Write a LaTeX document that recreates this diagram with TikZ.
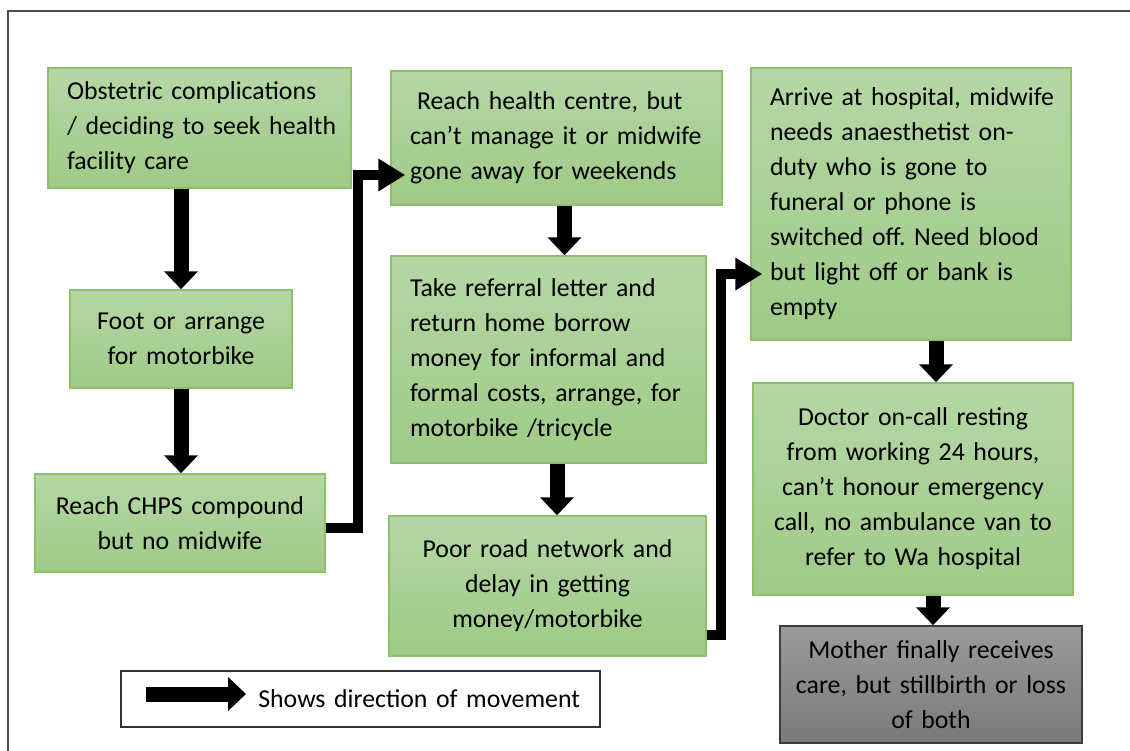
\documentclass[tikz,border=0pt]{standalone}
\usepackage{fontspec}
\setmainfont{Carlito}
\frenchspacing
\usetikzlibrary{arrows.meta}
\definecolor{greentop}{HTML}{B5D7A6}
\definecolor{greenbot}{HTML}{9ECA86}
\definecolor{greenedge}{HTML}{8CC168}
\definecolor{greytop}{HTML}{9A9A9A}
\definecolor{greybot}{HTML}{7A7A7A}
\definecolor{greyedge}{HTML}{3C3C3C}
\tikzset{
    stage/.style={draw=greenedge, line width=0.75pt, top color=greentop, bottom color=greenbot,
        inner xsep=4pt, inner ysep=2pt, align=center, text=black,
        font=\fontsize{12.9pt}{17.5pt}\selectfont},
    leftstage/.style={stage, align=left, execute at begin node={\leftskip=5.5pt}},
    endstage/.style={stage, draw=greyedge, top color=greytop, bottom color=greybot},
    keybox/.style={draw=black!80, line width=0.75pt, fill=white, inner xsep=10pt, align=right,
        font=\fontsize{12.9pt}{17.5pt}\selectfont},
    flow/.style={line width=7.5pt, -{Triangle[width=16.5pt, length=9pt]}},
    turn/.style={line width=5pt, -{Triangle[width=15.5pt, length=13.5pt]}}
}
\begin{document}
\begin{tikzpicture}[x=0.5pt, y=-0.5pt]
    \useasboundingbox (0,0) rectangle (1130,750);
    \draw[black!70, line width=0.75pt] (8,11) rectangle (1150,770);
    % first column
    \node[leftstage, text width=143.5pt, minimum height=60pt] (obst) at (199.5,128)
        {Obstetric complications\\/ deciding to seek health\\facility care};
    \node[stage, text width=103pt, minimum height=49pt] (foot) at (181,339)
        {Foot or arrange\\for motorbike};
    \node[stage, text width=137pt, minimum height=49pt] (chps) at (180,523)
        {Reach CHPS compound\\but no midwife};
    % second column
    \node[leftstage, text width=157.5pt, minimum height=67pt] (centre) at (556.5,138)
        {\hspace*{3.5pt}Reach health centre, but\\can’t manage it or midwife\\gone away for weekends};
    \node[leftstage, text width=149.5pt, minimum height=103.5pt] (referral) at (548.5,359.5)
        {Take referral letter and\\return home borrow\\money for informal and\\formal costs, arrange, for\\motorbike /tricycle};
    \node[stage, text width=150.5pt, minimum height=70pt] (road) at (547.5,586)
        {Poor road network and\\delay in getting\\money/motorbike};
    % third column
    \node[leftstage, text width=152pt, minimum height=136pt] (hospital) at (911,204)
        {Arrive at hospital, midwife\\needs anaesthetist on-\\duty who is gone to\\funeral or phone is\\switched off. Need blood\\but light off or bank is\\empty};
    \node[stage, text width=152pt, minimum height=106pt] (doctor) at (913,489)
        {Doctor on-call resting\\from working 24 hours,\\can’t honour emergency\\call, no ambulance van to\\refer to Wa hospital};
    \node[endstage, text width=143pt, minimum height=58.5pt] (mother) at (931,684.5)
        {Mother finally receives\\care, but stillbirth or loss\\of both};
    % movement
    \draw[flow] (obst.south -| foot.north) -- (foot.north);
    \draw[flow] (foot.south) -- (foot.south |- chps.north);
    \draw[turn] ([yshift=-2.5pt]chps.east) -- ++(16pt,0) |- ([xshift=7.5pt, yshift=-18.5pt]centre.west);
    \draw[flow] ([xshift=4pt]centre.south) -- ([xshift=4pt]centre.south |- referral.north);
    \draw[flow] ([xshift=4.25pt]referral.south) -- ([xshift=4.25pt]referral.south |- road.north);
    \draw[turn] ([yshift=-24.5pt]road.east) -- ++(7pt,0) |- ([xshift=6pt, yshift=-35pt]hospital.west);
    \draw[flow] ([xshift=12.5pt]hospital.south) -- ([xshift=12.5pt]hospital.south |- doctor.north);
    \draw[flow] ([xshift=10pt]doctor.south) -- ([xshift=10pt]doctor.south |- mother.north);
    % key
    \node[keybox, text width=219.5pt, minimum height=28pt] (legend) at (360.5,699)
        {Shows direction of movement};
    \coordinate (keytail) at (146,694);
    \coordinate (keyhead) at (246,694);
    \draw[flow] (keytail) -- (keyhead);
\end{tikzpicture}
\end{document}
